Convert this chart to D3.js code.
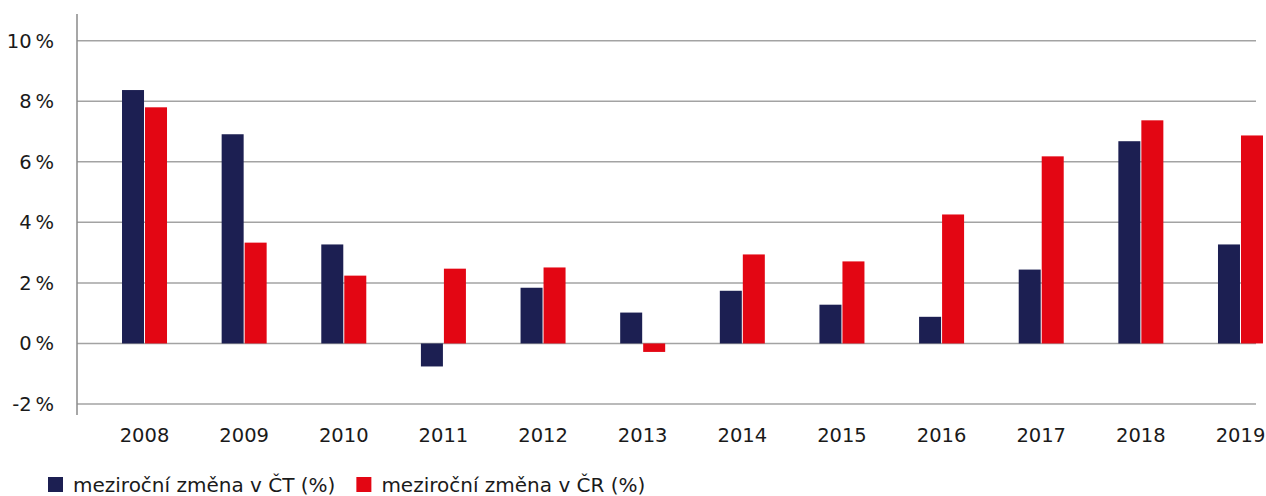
<!DOCTYPE html>
<html>
<head>
<meta charset="utf-8">
<script src="https://cdn.jsdelivr.net/npm/d3@7"></script>
<style>
  html, body { margin: 0; padding: 0; background: #fff; }
  svg { display: block; font-family: "DejaVu Sans", sans-serif; }
</style>
</head>
<body>
<svg id="chart" width="1266" height="496"></svg>
<script>
// Year-on-year change: ČT vs ČR (%)
const years = ["2008","2009","2010","2011","2012","2013","2014","2015","2016","2017","2018","2019"];
const changeCT = [8.37, 6.91, 3.27, -0.76, 1.84, 1.02, 1.74, 1.28, 0.88, 2.44, 6.68, 3.27];
const changeCR = [7.80, 3.33, 2.24, 2.47, 2.51, -0.28, 2.94, 2.71, 4.26, 6.18, 7.37, 6.87];
const seriesNames = ["meziroční změna v ČT (%)", "meziroční změna v ČR (%)"];
const seriesColors = ["#1c1f52", "#e30613"];
const yTicks = [-2, 0, 2, 4, 6, 8, 10];

const svg = d3.select("#chart");
const fontSize = 19.5;
const legendFontSize = 20;

const axisX = 77, gridRight = 1256;
const y = d3.scaleLinear().domain([-2, 10]).range([404, 40.7]);
const x = d3.scaleBand().domain(years).range([94.7, 1290.3]).padding(0);
const barW = 22, gap = 1;

// horizontal gridlines
svg.append("g")
  .selectAll("line")
  .data(yTicks)
  .join("line")
  .attr("x1", axisX).attr("x2", gridRight)
  .attr("y1", d => y(d)).attr("y2", d => y(d))
  .attr("stroke", "#a3a3a3")
  .attr("stroke-width", 1.5);

// y tick labels
svg.append("g")
  .selectAll("text")
  .data(yTicks)
  .join("text")
  .attr("x", 54)
  .attr("y", d => y(d))
  .attr("dy", "0.36em")
  .attr("text-anchor", "end")
  .attr("font-size", fontSize)
  .attr("fill", "#1a1a1a")
  .text(d => d + "\u2009%");

// bars, one series at a time
[changeCT, changeCR].forEach((vals, s) => {
  svg.append("g")
    .selectAll("rect")
    .data(years)
    .join("rect")
    .attr("x", d => x(d) + x.bandwidth() / 2 + (s === 0 ? -barW - gap / 2 : gap / 2))
    .attr("y", (d, i) => y(Math.max(0, vals[i])))
    .attr("width", barW)
    .attr("height", (d, i) => Math.abs(y(vals[i]) - y(0)))
    .attr("fill", seriesColors[s]);
});

// vertical axis line
svg.append("line")
  .attr("x1", axisX).attr("x2", axisX)
  .attr("y1", 14).attr("y2", 415)
  .attr("stroke", "#8a8a8a")
  .attr("stroke-width", 1.5);

// category labels
svg.append("g")
  .selectAll("text")
  .data(years)
  .join("text")
  .attr("x", d => x(d) + x.bandwidth() / 2)
  .attr("y", 442)
  .attr("text-anchor", "middle")
  .attr("font-size", fontSize)
  .attr("fill", "#1a1a1a")
  .text(d => d);

// legend
const legend = svg.append("g").attr("transform", "translate(48,477)");
let lx = 0;
seriesNames.forEach((name, i) => {
  const g = legend.append("g").attr("transform", `translate(${lx},0)`);
  g.append("rect").attr("width", 15).attr("height", 15).attr("fill", seriesColors[i]);
  const t = g.append("text")
    .attr("x", 25).attr("y", 7.5).attr("dy", "0.36em")
    .attr("font-size", legendFontSize).attr("fill", "#1a1a1a")
    .text(name);
  lx += 25 + t.node().getComputedTextLength() + 21;
});
</script>
</body>
</html>
